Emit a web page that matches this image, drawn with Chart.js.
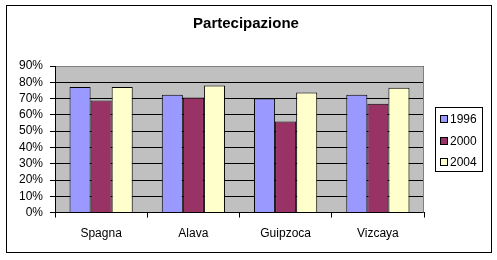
<!DOCTYPE html>
<html>
<head>
<meta charset="utf-8">
<script src="https://cdn.jsdelivr.net/npm/chart.js@4"></script>
<style>
  html, body { margin: 0; padding: 0; background: #fff; }
  #wrap { width: 497px; height: 260px; }
</style>
</head>
<body>
<div id="wrap"><canvas id="chart" width="497" height="260"></canvas></div>
<script>
const categories = ['Spagna', 'Alava', 'Guipzoca', 'Vizcaya'];
const years = ['1996', '2000', '2004'];
const values1996 = [77.1, 72.4, 70.0, 72.4];
const values2000 = [68.8, 70.6, 55.9, 66.9];
const values2004 = [77.1, 78.0, 73.7, 76.7];
const yTicks = [0, 10, 20, 30, 40, 50, 60, 70, 80, 90];
const barColors = ['#9999FF', '#993366', '#FFFFCC'];
const chartTitle = 'Partecipazione';

const fontFamily = 'Arial, "Liberation Sans", sans-serif';
const font = { family: fontFamily, size: 12 };

// excel-style frame: white page, grey plot area, title, boxed legend
const frame = {
    id: 'frame',
    beforeDraw(chart) {
        const { ctx, chartArea: a } = chart;
        ctx.save();
        ctx.fillStyle = '#fff';
        ctx.fillRect(0, 0, chart.width, chart.height);
        ctx.fillStyle = '#C0C0C0';
        ctx.fillRect(a.left, a.top, a.right - a.left, a.bottom - a.top);
        ctx.restore();
    },
    afterDraw(chart) {
        const { ctx, chartArea: a } = chart;
        ctx.save();
        ctx.lineWidth = 1;

        // plot border top/right
        ctx.strokeStyle = '#808080';
        ctx.beginPath();
        ctx.moveTo(a.left + 1, a.top + 0.5);
        ctx.lineTo(a.right - 0.5, a.top + 0.5);
        ctx.lineTo(a.right - 0.5, a.bottom);
        ctx.stroke();

        // outer frame
        ctx.strokeStyle = '#000';
        ctx.strokeRect(6.5, 5.5, 485, 247);

        // title
        ctx.fillStyle = '#000';
        ctx.font = 'bold 15px ' + fontFamily;
        ctx.textAlign = 'center';
        ctx.textBaseline = 'middle';
        ctx.fillText(chartTitle, 246, 24);

        // legend
        const sets = chart.data.datasets;
        const boxW = 47, boxH = 64;
        const x0 = Math.round(a.right + 11);
        const y0 = Math.round((a.top + a.bottom) / 2 - boxH / 2);
        ctx.strokeRect(x0 + 0.5, y0 + 0.5, boxW, boxH);
        ctx.font = font.size + 'px ' + fontFamily;
        ctx.textAlign = 'left';
        sets.forEach((ds, i) => {
            const cy = Math.round(y0 + 12 + i * 21.5);
            ctx.fillStyle = ds.backgroundColor;
            ctx.fillRect(x0 + 5, cy - 4, 8, 8);
            ctx.strokeRect(x0 + 5.5, cy - 3.5, 7, 7);
            ctx.fillStyle = '#000';
            ctx.fillText(ds.label, x0 + 15, cy + 1);
        });
        ctx.restore();
    }
};

new Chart(document.getElementById('chart').getContext('2d'), {
    type: 'bar',
    data: {
        labels: categories,
        datasets: [values1996, values2000, values2004].map((vals, i) => ({
            label: years[i],
            data: vals,
            backgroundColor: barColors[i],
            borderColor: '#000',
            borderWidth: 1,
            barPercentage: 1,
            categoryPercentage: 0.685
        }))
    },
    options: {
        responsive: false,
        animation: false,
        layout: { padding: { left: 8, right: 73, top: 66, bottom: 10 } },
        plugins: {
            title: { display: false },
            legend: { display: false },
            tooltip: { enabled: false }
        },
        scales: {
            x: {
                grid: { offset: true, drawOnChartArea: false, drawTicks: true, tickLength: 5, color: '#000' },
                border: { color: '#000' },
                ticks: { color: '#000', font: font, padding: 9 }
            },
            y: {
                min: 0,
                max: 90,
                afterBuildTicks(scale) { scale.ticks = yTicks.map(v => ({ value: v })); },
                afterFit(scale) { scale.width = 47; },
                grid: { color: '#000', drawTicks: true, tickLength: 5 },
                border: { color: '#000' },
                ticks: { color: '#000', font: font, padding: 7, autoSkip: false, callback: v => v + '%' }
            }
        }
    },
    plugins: [frame]
});
</script>
</body>
</html>
